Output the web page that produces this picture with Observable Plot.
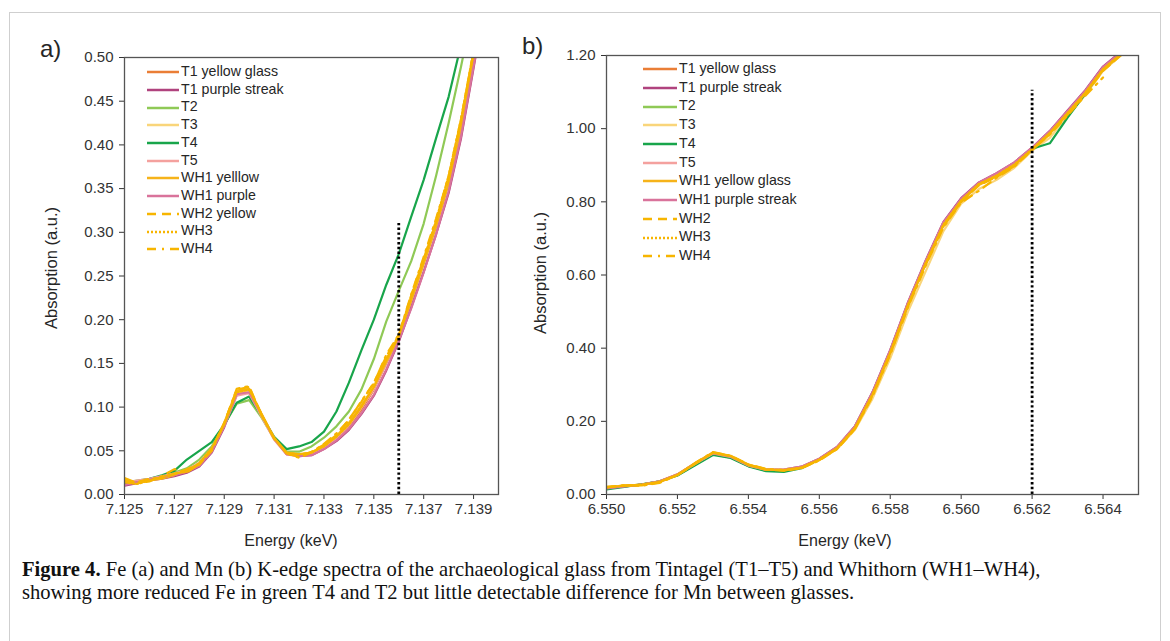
<!DOCTYPE html>
<html><head><meta charset="utf-8">
<script src="https://cdn.jsdelivr.net/npm/d3@7"></script>
<script src="https://cdn.jsdelivr.net/npm/@observablehq/plot@0.6"></script>
<style>
body{margin:0;background:#fff;}
#fig{position:relative;width:1170px;height:641px;overflow:hidden;font-family:"Liberation Sans",Arial,sans-serif;color:#262626;}
#border{position:absolute;left:9px;top:12px;width:1150px;height:680px;border:1.5px solid #cfcfcf;}
.abs{position:absolute;white-space:nowrap;}
.plab{font-size:24px;}
.ytitle{font-size:16.5px;transform:translate(-50%,-50%) rotate(-90deg);}
.xtitle{font-size:16px;transform:translate(-50%,-50%);}
.leg{position:absolute;font-size:14.2px;line-height:16px;}
.leg svg{vertical-align:middle;}
#cap{position:absolute;left:22px;top:558px;font-family:"Liberation Serif","Times New Roman",serif;font-size:20.6px;line-height:23px;color:#111;}
</style></head>
<body><div id="fig"><div id="border"></div></div>
<script>
// ---------- data ----------
const SERIES_A = ["T1 yellow glass","T1 purple streak","T2","T3","T4","T5","WH1 yelllow","WH1 purple","WH2 yellow","WH3","WH4"];
const SERIES_B = ["T1 yellow glass","T1 purple streak","T2","T3","T4","T5","WH1 yellow glass","WH1 purple streak","WH2","WH3","WH4"];
const COLORS = ["#EA7E36","#B0437E","#8FC956","#F9D57A","#18A54B","#F4A19E","#F6B31A","#D9739B","#F7B500","#F7B500","#F7B500"];
const DASHES = [null,null,null,null,null,null,null,null,"9,6","2,2","9,6,2,6"];

const XTICKS_A = [7.125,7.127,7.129,7.131,7.133,7.135,7.137,7.139];
const YTICKS_A = [0,0.05,0.10,0.15,0.20,0.25,0.30,0.35,0.40,0.45,0.50];
const XTICKS_B = [6.550,6.552,6.554,6.556,6.558,6.560,6.562,6.564];
const YTICKS_B = [0,0.2,0.4,0.6,0.8,1.0,1.2];

// Fe K-edge energies (keV)
const E_A = [7.1250,7.1255,7.1260,7.1265,7.1270,7.1275,7.1280,7.1285,7.1290,7.1295,7.1300,7.1305,7.1310,7.1315,7.1320,7.1325,7.1330,7.1335,7.1340,7.1345,7.1350,7.1355,7.1360,7.1365,7.1370,7.1375,7.1380,7.1385,7.1390,7.1395];
const A_T1Y  = [0.013,0.015,0.017,0.019,0.022,0.027,0.035,0.051,0.080,0.118,0.119,0.091,0.064,0.047,0.045,0.047,0.054,0.064,0.078,0.097,0.120,0.150,0.181,0.222,0.265,0.308,0.357,0.422,0.500,0.58];
const A_T1P  = [0.010,0.013,0.016,0.018,0.021,0.025,0.032,0.048,0.077,0.114,0.117,0.090,0.064,0.047,0.044,0.045,0.052,0.061,0.074,0.092,0.113,0.142,0.175,0.214,0.255,0.298,0.345,0.408,0.488,0.57];
const A_T2   = [0.013,0.016,0.018,0.021,0.025,0.030,0.040,0.055,0.080,0.104,0.108,0.088,0.064,0.049,0.049,0.055,0.065,0.078,0.095,0.120,0.155,0.198,0.233,0.267,0.310,0.365,0.425,0.490,0.56,0.63];
const A_T3   = [0.014,0.015,0.017,0.020,0.023,0.028,0.036,0.052,0.081,0.117,0.118,0.090,0.063,0.047,0.046,0.048,0.055,0.065,0.080,0.100,0.122,0.152,0.182,0.223,0.266,0.310,0.360,0.425,0.505,0.58];
const A_T4   = [0.012,0.015,0.018,0.022,0.027,0.040,0.050,0.060,0.080,0.105,0.112,0.090,0.066,0.052,0.055,0.060,0.072,0.095,0.128,0.165,0.200,0.240,0.275,0.318,0.360,0.408,0.455,0.515,0.58,0.65];
const A_T5   = [0.014,0.016,0.018,0.021,0.024,0.028,0.036,0.052,0.079,0.113,0.116,0.089,0.063,0.046,0.045,0.047,0.054,0.064,0.079,0.099,0.121,0.151,0.182,0.224,0.267,0.310,0.360,0.426,0.505,0.58];
const A_WH1Y = [0.017,0.013,0.016,0.018,0.022,0.028,0.035,0.051,0.082,0.119,0.121,0.092,0.065,0.048,0.046,0.048,0.056,0.067,0.082,0.102,0.123,0.152,0.180,0.222,0.264,0.307,0.356,0.420,0.498,0.58];
const A_WH1P = [0.011,0.014,0.017,0.020,0.022,0.026,0.033,0.049,0.078,0.115,0.117,0.091,0.064,0.046,0.044,0.045,0.052,0.062,0.075,0.093,0.114,0.143,0.176,0.213,0.254,0.298,0.347,0.410,0.490,0.57];
const A_WH2  = [0.015,0.014,0.018,0.019,0.023,0.029,0.034,0.052,0.082,0.120,0.123,0.091,0.065,0.047,0.043,0.049,0.057,0.068,0.086,0.106,0.128,0.158,0.182,0.228,0.270,0.312,0.360,0.428,0.505,0.58];
const A_WH3  = [0.014,0.012,0.016,0.020,0.024,0.026,0.036,0.053,0.080,0.117,0.120,0.092,0.064,0.048,0.046,0.048,0.055,0.066,0.080,0.100,0.123,0.155,0.181,0.226,0.268,0.314,0.365,0.430,0.508,0.58];
const A_WH4  = [0.019,0.013,0.015,0.021,0.029,0.025,0.035,0.050,0.081,0.121,0.124,0.090,0.064,0.047,0.042,0.048,0.058,0.070,0.085,0.107,0.127,0.160,0.183,0.229,0.272,0.316,0.364,0.430,0.507,0.58];

// Mn K-edge energies (keV)
const E_B = [6.5500,6.5505,6.5510,6.5515,6.5520,6.5525,6.5530,6.5535,6.5540,6.5545,6.5550,6.5555,6.5560,6.5565,6.5570,6.5575,6.5580,6.5585,6.5590,6.5595,6.5600,6.5605,6.5610,6.5615,6.5620,6.5625,6.5630,6.5635,6.5640,6.5645,6.5650];
const B_T1Y  = [0.018,0.023,0.027,0.036,0.055,0.085,0.113,0.104,0.080,0.067,0.067,0.075,0.097,0.128,0.184,0.277,0.392,0.522,0.636,0.742,0.806,0.851,0.876,0.906,0.946,0.991,1.046,1.102,1.166,1.206,1.25];
const B_T1P  = [0.017,0.022,0.027,0.035,0.054,0.083,0.111,0.103,0.079,0.067,0.068,0.076,0.098,0.130,0.186,0.280,0.395,0.525,0.640,0.745,0.810,0.853,0.878,0.908,0.948,0.994,1.050,1.105,1.170,1.210,1.25];
const B_T2   = [0.016,0.022,0.028,0.036,0.053,0.082,0.110,0.101,0.078,0.065,0.066,0.074,0.096,0.127,0.182,0.274,0.388,0.518,0.632,0.738,0.803,0.848,0.873,0.903,0.943,0.988,1.043,1.098,1.163,1.203,1.25];
const B_T3   = [0.020,0.024,0.026,0.034,0.052,0.083,0.112,0.104,0.081,0.069,0.069,0.074,0.094,0.124,0.176,0.262,0.372,0.500,0.610,0.720,0.795,0.835,0.860,0.893,0.940,0.975,1.035,1.092,1.158,1.200,1.25];
const B_T4   = [0.014,0.021,0.028,0.036,0.052,0.080,0.108,0.100,0.077,0.064,0.062,0.072,0.096,0.128,0.184,0.276,0.390,0.520,0.635,0.740,0.805,0.850,0.875,0.905,0.945,0.960,1.030,1.095,1.162,1.203,1.25];
const B_T5   = [0.018,0.023,0.027,0.036,0.054,0.084,0.112,0.103,0.079,0.067,0.067,0.075,0.097,0.129,0.184,0.276,0.391,0.521,0.636,0.741,0.806,0.851,0.876,0.906,0.946,0.991,1.046,1.101,1.166,1.206,1.25];
const B_WH1Y = [0.019,0.025,0.026,0.034,0.054,0.086,0.115,0.106,0.082,0.069,0.066,0.073,0.095,0.126,0.180,0.272,0.386,0.516,0.630,0.735,0.802,0.846,0.870,0.900,0.943,0.986,1.040,1.096,1.160,1.202,1.25];
const B_WH1P = [0.017,0.022,0.027,0.036,0.055,0.085,0.113,0.104,0.080,0.068,0.068,0.076,0.098,0.130,0.186,0.279,0.394,0.524,0.638,0.744,0.808,0.852,0.878,0.908,0.948,0.993,1.048,1.104,1.168,1.208,1.25];
const B_WH2  = [0.020,0.024,0.025,0.033,0.053,0.084,0.114,0.105,0.081,0.068,0.065,0.072,0.094,0.125,0.179,0.270,0.384,0.514,0.628,0.733,0.800,0.845,0.868,0.898,0.942,0.985,1.038,1.094,1.158,1.200,1.25];
const B_WH3  = [0.019,0.024,0.027,0.035,0.054,0.085,0.114,0.105,0.081,0.068,0.067,0.074,0.096,0.127,0.182,0.274,0.389,0.519,0.633,0.738,0.804,0.849,0.872,0.902,0.944,0.989,1.043,1.099,1.163,1.204,1.25];
const B_WH4  = [0.021,0.025,0.024,0.032,0.053,0.086,0.116,0.106,0.082,0.070,0.066,0.072,0.093,0.124,0.178,0.268,0.382,0.512,0.625,0.730,0.798,0.830,0.866,0.896,0.942,0.984,1.036,1.090,1.140];

const DATA_A = [A_T1Y,A_T1P,A_T2,A_T3,A_T4,A_T5,A_WH1Y,A_WH1P,A_WH2,A_WH3,A_WH4];
const DATA_B = [B_T1Y,B_T1P,B_T2,B_T3,B_T4,B_T5,B_WH1Y,B_WH1P,B_WH2,B_WH3,B_WH4];

// ---------- drawing ----------
const fig = document.getElementById("fig");
const FONT = '"Liberation Sans", Arial, sans-serif';

function panel(E, data, cfg) {
  const marks = [];
  data.forEach((ys, k) => {
    const rows = ys.map((y, i) => ({x: E[i], y}));
    const o = {x: "x", y: "y", stroke: COLORS[k], strokeWidth: 2.2, clip: true, curve: "linear"};
    if (DASHES[k]) o.strokeDasharray = DASHES[k];
    marks.push(Plot.line(rows, o));
  });
  marks.push(Plot.ruleX([cfg.rule], {y1: 0, y2: cfg.ruleTop, stroke: "#000", strokeWidth: 2.8, strokeDasharray: "2.4,2.4"}));
  marks.push(Plot.frame({stroke: "#555", strokeWidth: 1.3}));
  const svg = Plot.plot({
    width: cfg.width, height: 560,
    marginLeft: cfg.ml, marginRight: cfg.mr, marginTop: cfg.mt, marginBottom: 66,
    style: {fontFamily: FONT, fontSize: "15px", color: "#333", background: "transparent", overflow: "visible"},
    x: {domain: cfg.xd, ticks: cfg.xt, tickFormat: d3.format(".3f"), label: null, tickSize: 5, tickPadding: 4},
    y: {domain: cfg.yd, ticks: cfg.yt, tickFormat: d3.format(".2f"), label: null, tickSize: 5, tickPadding: 6},
    marks
  });
  svg.style.position = "absolute";
  svg.style.left = cfg.left + "px";
  svg.style.top = "0px";
  fig.appendChild(svg);
}

panel(E_A, DATA_A, {left: 0, width: 520, ml: 124, mr: 22, mt: 57, xd: [7.125, 7.140], yd: [0, 0.5], xt: XTICKS_A, yt: YTICKS_A, rule: 7.136, ruleTop: 0.31});
panel(E_B, DATA_B, {left: 500, width: 670, ml: 106, mr: 32, mt: 55, xd: [6.550, 6.565], yd: [0, 1.2], xt: XTICKS_B, yt: YTICKS_B, rule: 6.562, ruleTop: 1.105});

function legend(names, x0, y0, dy, lineW) {
  names.forEach((n, k) => {
    const d = document.createElement("div");
    d.className = "leg";
    d.style.left = x0 + "px";
    d.style.top = (y0 + k * dy - 8) + "px";
    const dash = DASHES[k] ? `stroke-dasharray="${DASHES[k]}"` : "";
    d.innerHTML = `<svg width="${lineW}" height="6" style="margin-right:2px"><line x1="0" y1="3" x2="${lineW}" y2="3" stroke="${COLORS[k]}" stroke-width="2.5" ${dash}/></svg>${n}`;
    fig.appendChild(d);
  });
}
legend(SERIES_A, 147, 71, 17.7, 32);
legend(SERIES_B, 643, 68, 18.7, 34);

function text(cls, s, x, y, style) {
  const d = document.createElement("div");
  d.className = "abs " + cls;
  d.textContent = s;
  d.style.left = x + "px"; d.style.top = y + "px";
  if (style) Object.assign(d.style, style);
  fig.appendChild(d);
}
text("plab", "a)", 40, 35);
text("plab", "b)", 522, 32);
text("ytitle", "Absorption (a.u.)", 51, 268);
text("ytitle", "Absorption (a.u.)", 540, 273);
text("xtitle", "Energy (keV)", 291, 541);
text("xtitle", "Energy (keV)", 845, 541);

const cap = document.createElement("div");
cap.id = "cap";
cap.innerHTML = '<b>Figure 4.</b> Fe (a) and Mn (b) K-edge spectra of the archaeological glass from Tintagel (T1–T5) and Whithorn (WH1–WH4),<br>showing more reduced Fe in green T4 and T2 but little detectable difference for Mn between glasses.';
fig.appendChild(cap);
</script>
</body></html>
